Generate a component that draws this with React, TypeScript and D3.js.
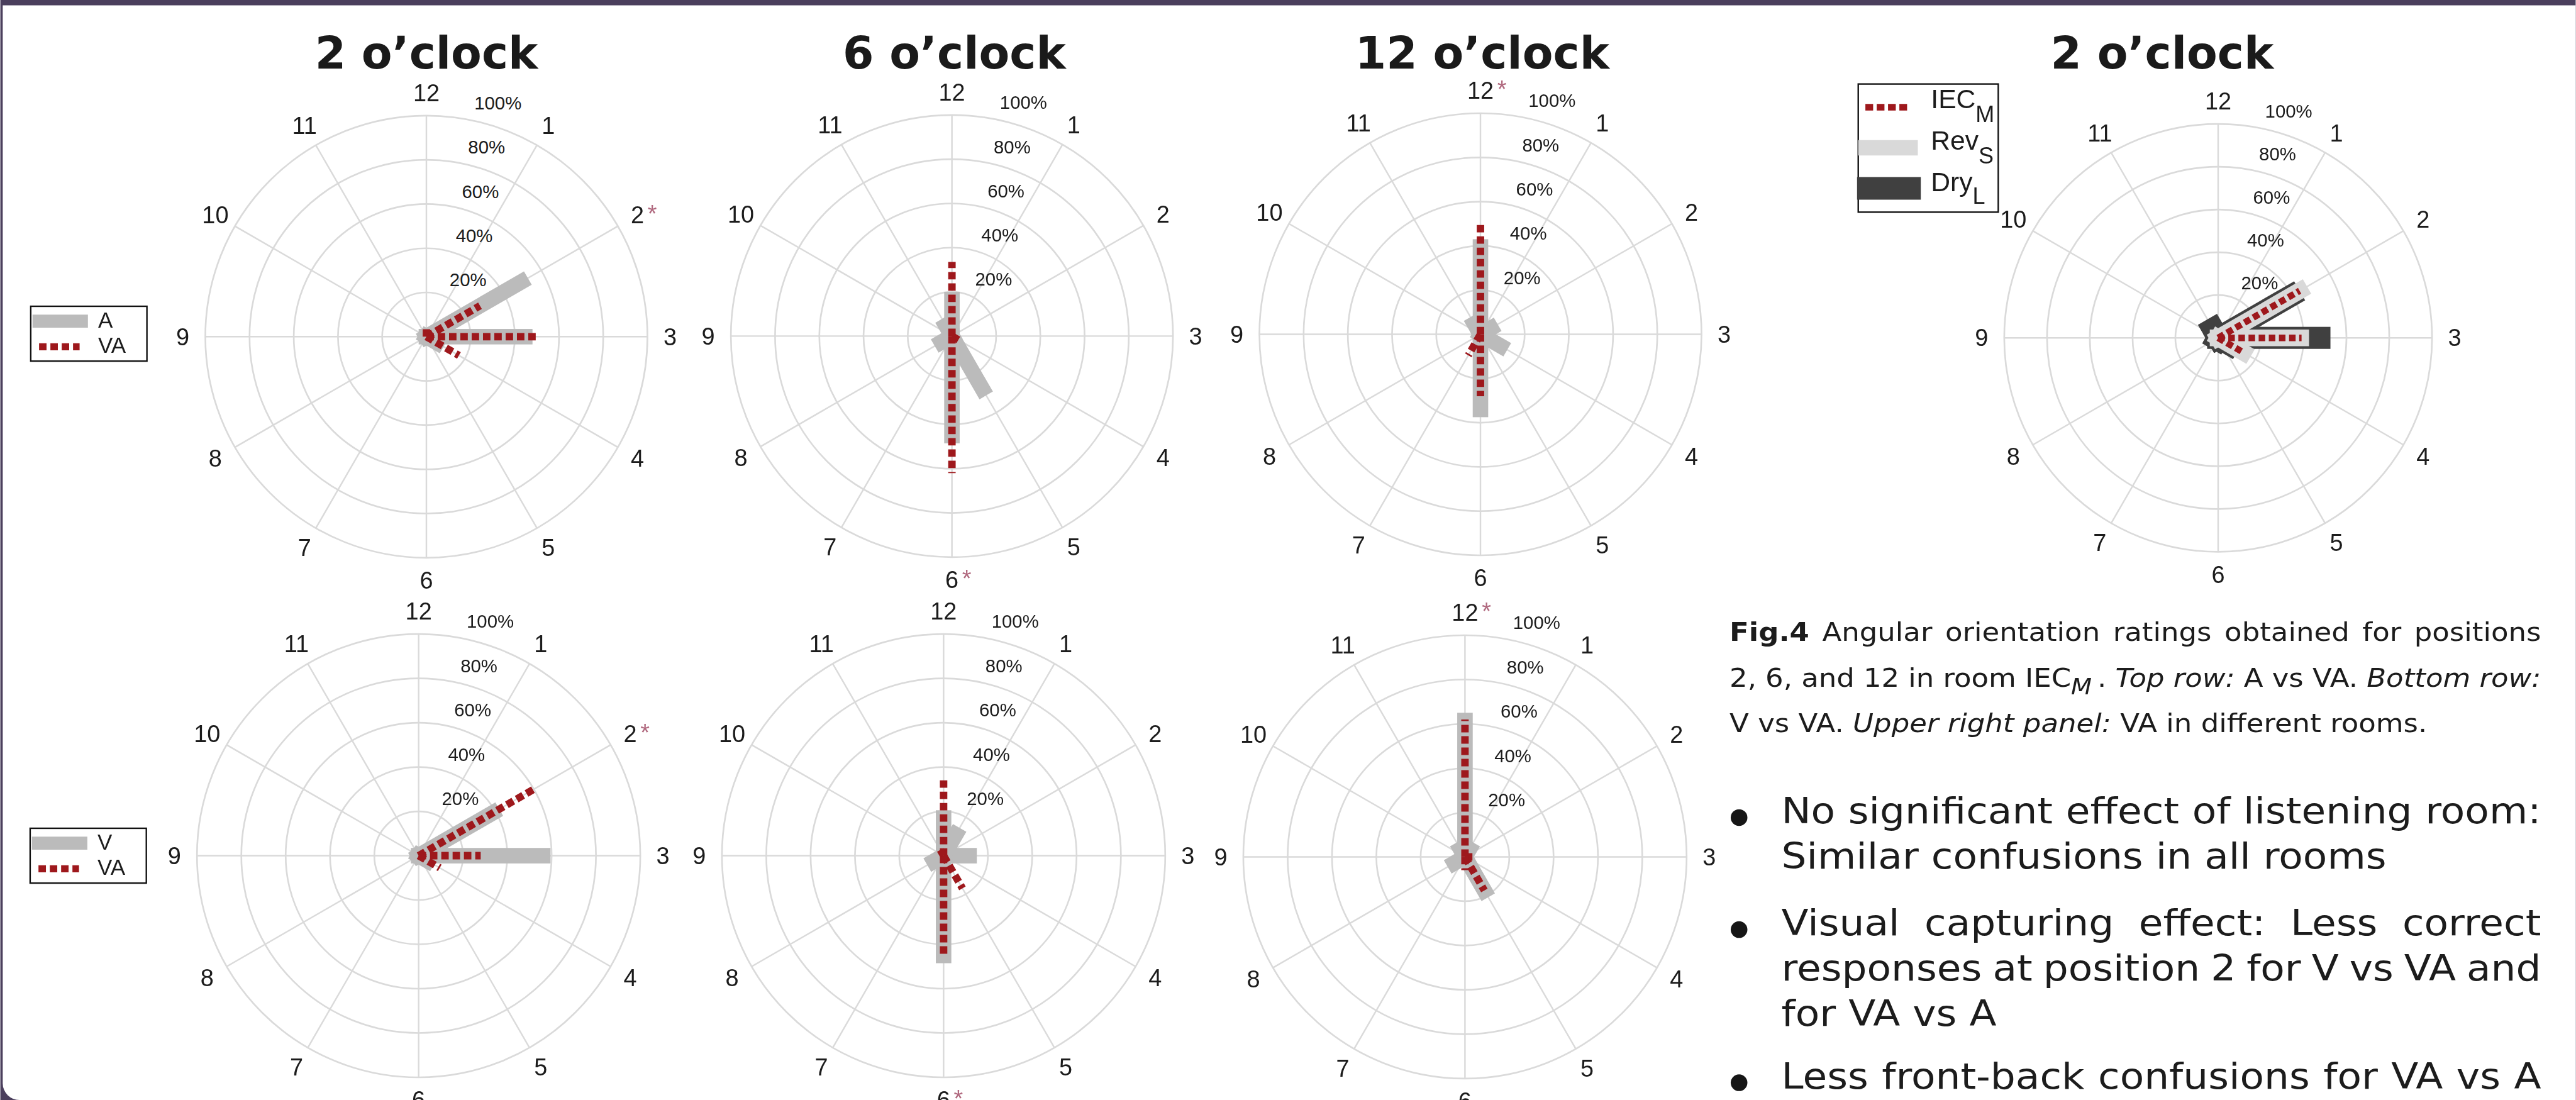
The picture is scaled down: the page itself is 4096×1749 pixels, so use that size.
import React, { useMemo } from 'react';
import * as d3 from 'd3';

const VIEW_W = 4322;
const VIEW_H = 1846;
const OUT_W = 4096;
const OUT_H = 1749;

// Clock directions, in the order the value arrays are stored.
const HOURS = [12, 1, 2, 3, 4, 5, 6, 7, 8, 9, 10, 11];
const RADIAL_TICKS = [20, 40, 60, 80, 100];

// Share of responses (%) per perceived clock direction, ordered as HOURS.
// Top row: A vs VA
const top2A = [0, 0, 53, 48, 9, 0, 0, 0, 0, 0, 0, 0];
const top2VA = [5, 0, 28, 50, 17, 0, 0, 0, 0, 0, 0, 0];
const top6A = [20, 0, 0, 0, 0, 31, 48.5, 0, 9, 0, 0, 9];
const top6VA = [33.5, 0, 0, 0, 4, 0, 62, 0, 0, 0, 0, 0];
const top12A = [43, 0, 9, 0, 14, 0, 37.5, 0, 0, 0, 0, 9];
const top12VA = [51, 0, 0, 0, 0, 0, 28, 11, 0, 0, 0, 0];
// Bottom row: V vs VA
const bot2V = [0, 0, 42, 59.5, 8, 0, 0, 0, 0, 0, 0, 0];
const bot2VA = [0, 0, 61, 28, 11, 0, 0, 0, 0, 0, 0, 0];
const bot6V = [20.5, 14.5, 0, 15, 0, 0, 48.5, 0, 8.5, 0, 0, 0];
const bot6VA = [34, 0, 0, 0, 0, 17, 45, 0, 0, 0, 0, 3];
const bot12V = [65, 7.5, 0, 0, 0, 21, 0, 0, 9, 0, 0, 7.5];
const bot12VA = [62, 0, 0, 5, 0, 17.5, 6, 0, 0, 0, 0, 0];
// Upper right: VA at position 2 in the three rooms
const roomIEC = [0, 0, 44, 39, 12.5, 0, 0, 0, 0, 0, 0, 0];
const roomRev = [0, 0, 48, 42.5, 17.5, 0, 0, 0, 0, 0, 0, 0];
const roomDry = [0, 0, 44, 52.5, 11, 0, 0, 6, 5, 0, 0, 10];

const TITLES = ['2 o\u2019clock', '6 o\u2019clock', '12 o\u2019clock', '2 o\u2019clock'];
const TARGET_HOURS = [2, 6, 12];

const C = {
  frame: '#4b3f5d',
  grid: '#dadada',
  grey: '#bbbbbb',
  red: '#9e181c',
  rev: '#d9d9d9',
  dry: '#404040',
  star: '#b0687e',
  ink: '#1c1c1c',
};

const NUM_FONT = '"Liberation Sans", Arial, Helvetica, sans-serif';
const TEXT_FONT = '"DejaVu Sans", sans-serif';

type Series = {
  values: number[];
  kind: 'bar' | 'dot';
  color: string;
  width: number;
  dash?: string;
};

const greyBar = (values: number[]): Series => ({ values, kind: 'bar', color: C.grey, width: 26 });
const redDots = (values: number[]): Series => ({ values, kind: 'dot', color: C.red, width: 12.5, dash: '12.5 6.5' });

const PANELS = [
  { cx: 715, cy: 565, R: 371, star: 2, series: [greyBar(top2A), redDots(top2VA)] },
  { cx: 1597, cy: 564, R: 371, star: 6, series: [greyBar(top6A), redDots(top6VA)] },
  { cx: 2484, cy: 561, R: 371, star: 12, series: [greyBar(top12A), redDots(top12VA)] },
  {
    cx: 3722, cy: 567, R: 359, star: null,
    series: [
      { values: roomDry, kind: 'bar', color: C.dry, width: 37 } as Series,
      { values: roomRev, kind: 'bar', color: C.rev, width: 28 } as Series,
      { values: roomIEC, kind: 'dot', color: C.red, width: 11, dash: '11 6' } as Series,
    ],
  },
  { cx: 702, cy: 1436, R: 372, star: 2, series: [greyBar(bot2V), redDots(bot2VA)] },
  { cx: 1583, cy: 1436, R: 372, star: 6, series: [greyBar(bot6V), redDots(bot6VA)] },
  { cx: 2458, cy: 1438, R: 372, star: 12, series: [greyBar(bot12V), redDots(bot12VA)] },
];

const TITLE_POS = [715, 1601, 2487, 3628];

function PolarPanel({ cx, cy, R, star, series }: { cx: number; cy: number; R: number; star: number | null; series: Series[] }) {
  const r = d3.scaleLinear().domain([0, 100]).range([0, R]);
  const deg = d3.scaleLinear().domain([0, 12]).range([0, 360]);
  const rad = (h: number) => (deg(h % 12) * Math.PI) / 180;
  const labelSize = 40;
  const pctSize = 31;

  return (
    <g>
      {RADIAL_TICKS.map((t) => (
        <circle key={t} cx={cx} cy={cy} r={r(t)} fill="none" stroke={C.grid} strokeWidth={2.8} />
      ))}
      {HOURS.map((h) => {
        const [x, y] = d3.pointRadial(rad(h), R);
        return <line key={h} x1={cx} y1={cy} x2={cx + x} y2={cy + y} stroke={C.grid} strokeWidth={2.6} />;
      })}
      {RADIAL_TICKS.map((t) => (
        <text
          key={t}
          x={cx + 28.5 + 0.14 * r(t)}
          y={cy - r(t) - 21 + 0.35 * pctSize}
          fontFamily={NUM_FONT}
          fontSize={pctSize}
          fill={C.ink}
        >
          {t}%
        </text>
      ))}
      {series.map((s, si) =>
        s.values.map((v, i) => {
          if (!(v > 0)) return null;
          const h = HOURS[i];
          if (s.kind === 'bar') {
            const hw = s.width / 2;
            return (
              <rect
                key={`${si}-${h}`}
                x={-hw}
                y={-hw}
                width={r(v) + hw}
                height={s.width}
                fill={s.color}
                transform={`translate(${cx},${cy}) rotate(${deg(h % 12) - 90})`}
              />
            );
          }
          const [x, y] = d3.pointRadial(rad(h), r(v));
          return (
            <line
              key={`${si}-${h}`}
              x1={cx}
              y1={cy}
              x2={cx + x}
              y2={cy + y}
              stroke={s.color}
              strokeWidth={s.width}
              strokeDasharray={s.dash}
            />
          );
        })
      )}
      {HOURS.map((h) => {
        const [x, y] = d3.pointRadial(rad(h), R + 38);
        const lx = cx + x;
        const ly = cy + y;
        const digitsW = String(h).length * 0.556 * labelSize;
        return (
          <g key={h}>
            <text
              x={lx}
              y={ly + 0.35 * labelSize}
              textAnchor="middle"
              fontFamily={NUM_FONT}
              fontSize={labelSize}
              fill={C.ink}
            >
              {h}
            </text>
            {star === h && (
              <text x={lx + digitsW / 2 + 6} y={ly + 0.35 * labelSize - 2} fontFamily={NUM_FONT} fontSize={40} fill={C.star}>
                *
              </text>
            )}
          </g>
        );
      })}
    </g>
  );
}

function PairLegend({ x, y, labels }: { x: number; y: number; labels: string[] }) {
  return (
    <g>
      <rect x={x} y={y} width={195} height={92} fill="#fff" stroke="#111" strokeWidth={2.5} />
      <line x1={x + 3} x2={x + 96} y1={y + 25} y2={y + 25} stroke={C.grey} strokeWidth={22} />
      <line x1={x + 14} x2={x + 82} y1={y + 68} y2={y + 68} stroke={C.red} strokeWidth={12} strokeDasharray="12.5 6.5" />
      <text x={x + 113} y={y + 36} fontFamily={NUM_FONT} fontSize={37} fill={C.ink}>
        {labels[0]}
      </text>
      <text x={x + 113} y={y + 78} fontFamily={NUM_FONT} fontSize={37} fill={C.ink}>
        {labels[1]}
      </text>
    </g>
  );
}

function RoomLegend() {
  const tx = 3240;
  const rows = [
    { main: 'IEC', sub: 'M', base: 182, subBase: 205 },
    { main: 'Rev', sub: 'S', base: 251, subBase: 274 },
    { main: 'Dry', sub: 'L', base: 321, subBase: 342 },
  ];
  return (
    <g>
      <rect x={3118} y={141} width={235} height={215} fill="#fff" stroke="#111" strokeWidth={2.5} />
      <line x1={3130} x2={3202} y1={180} y2={180} stroke={C.red} strokeWidth={11} strokeDasharray="13 6" />
      <line x1={3118} x2={3218} y1={248} y2={248} stroke={C.rev} strokeWidth={26} />
      <line x1={3116} x2={3223} y1={316} y2={316} stroke={C.dry} strokeWidth={38} />
      {rows.map((row) => (
        <text key={row.main} x={tx} y={row.base} fontFamily={NUM_FONT} fontSize={45} fill={C.ink}>
          {row.main}
          <tspan fontSize={38} dy={row.subBase - row.base}>
            {row.sub}
          </tspan>
        </text>
      ))}
    </g>
  );
}

// ---------- caption and bullet text ----------
type Seg = { t: string; b?: boolean; i?: boolean; sub?: boolean };
type Word = string | Seg[];
type Line = { words: Word[]; justify: boolean };

const words = (s: string) => s.split(' ');
const it = (s: string): Seg[] => [{ t: s, i: true }];

const CAPTION: Line[] = [
  { justify: true, words: [[{ t: 'Fig.4', b: true }], ...words('Angular orientation ratings obtained for positions')] },
  {
    justify: true,
    words: [
      ...words('2, 6, and 12 in room'),
      [{ t: 'IEC' }, { t: 'M', i: true, sub: true }, { t: '\u2009.' }],
      it('Top'),
      it('row:'),
      ...words('A vs VA.'),
      it('Bottom'),
      it('row:'),
    ],
  },
  { justify: false, words: [...words('V vs VA.'), it('Upper'), it('right'), it('panel:'), ...words('VA in different rooms.')] },
];
const CAPTION_BASE = [1076, 1153, 1229];

const BULLETS: Line[][] = [
  [
    { justify: true, words: words('No significant effect of listening room:') },
    { justify: false, words: words('Similar confusions in all rooms') },
  ],
  [
    { justify: true, words: words('Visual capturing effect: Less correct') },
    { justify: true, words: words('responses at position 2 for V vs VA and') },
    { justify: false, words: words('for VA vs A') },
  ],
  [{ justify: true, words: words('Less front-back confusions for VA vs A') }],
];
const BULLET_BASE = [[1382, 1458], [1570, 1646, 1721], [1827]];

const SUB_SCALE = 0.85;
const SUB_DY = 12;

function fontStr(s: Seg, size: number) {
  const sz = s.sub ? size * SUB_SCALE : size;
  return `${s.i ? 'italic ' : ''}${s.b ? 'bold ' : ''}${sz}px "DejaVu Sans"`;
}

function layoutLine(ctx: CanvasRenderingContext2D | null, line: Line, size: number, width: number) {
  const segsList: Seg[][] = line.words.map((w) => (typeof w === 'string' ? [{ t: w }] : w));
  const measure = (s: Seg) => {
    if (!ctx) return s.t.length * size * 0.58;
    ctx.font = fontStr(s, size);
    return ctx.measureText(s.t).width;
  };
  const widths = segsList.map((segs) => segs.reduce((a, s) => a + measure(s), 0));
  const space = measure({ t: ' ' });
  const total = widths.reduce((a, b) => a + b, 0);
  const gap = line.justify && segsList.length > 1 ? (width - total) / (segsList.length - 1) : space;
  let x = 0;
  return segsList.map((segs, k) => {
    const out = { segs, x };
    x += widths[k] + gap;
    return out;
  });
}

function TextLine({ items, baseline, size }: { items: { segs: Seg[]; x: number }[]; baseline: number; size: number }) {
  return (
    <g>
      {items.map((w, k) => (
        <text key={k} x={w.x} y={baseline} fontFamily={TEXT_FONT} fontSize={size} fill={C.ink}>
          {w.segs.map((s, j) => {
            const prevSub = j > 0 && w.segs[j - 1].sub;
            const dy = s.sub ? SUB_DY : prevSub ? -SUB_DY : 0;
            return (
              <tspan
                key={j}
                fontWeight={s.b ? 'bold' : 'normal'}
                fontStyle={s.i ? 'italic' : 'normal'}
                fontSize={s.sub ? size * SUB_SCALE : size}
                dy={dy || undefined}
              >
                {s.t}
              </tspan>
            );
          })}
        </text>
      ))}
    </g>
  );
}

export default function App() {
  const ctx = useMemo(() => document.createElement('canvas').getContext('2d'), []);

  const RIGHT = 4264;
  const capX = 2902;
  const capSize = 44;
  const capSx = 1.08;
  const bulX = 2989;
  const bulSize = 61;
  const bulSx = 1.09;

  const captionLines = CAPTION.map((l) => layoutLine(ctx, l, capSize, (RIGHT - capX) / capSx));
  const bulletLines = BULLETS.map((b) => b.map((l) => layoutLine(ctx, l, bulSize, (RIGHT - bulX) / bulSx)));

  return (
    <svg
      width={OUT_W}
      height={OUT_H}
      viewBox={`0 0 ${VIEW_W} ${VIEW_H}`}
      style={{ position: 'fixed', left: 0, top: 0, display: 'block' }}
    >
      <rect x={0} y={0} width={VIEW_W} height={VIEW_H} fill={C.frame} />
      <path d={`M4 9 H${VIEW_W} V${VIEW_H} H32 A28 28 0 0 1 4 ${VIEW_H - 28} Z`} fill="#fff" />

      {TITLES.map((t, i) => (
        <text
          key={i}
          x={TITLE_POS[i]}
          y={115}
          textAnchor="middle"
          fontFamily={TEXT_FONT}
          fontWeight="bold"
          fontSize={75}
          fill="#1a1a1a"
        >
          {t}
        </text>
      ))}

      {PANELS.map((p, i) => (
        <PolarPanel key={i} cx={p.cx} cy={p.cy} R={p.R} star={p.star} series={p.series} />
      ))}

      <PairLegend x={51} y={514} labels={['A', 'VA']} />
      <PairLegend x={50} y={1390} labels={['V', 'VA']} />
      <RoomLegend />

      <g transform={`translate(${capX} 0) scale(${capSx} 1)`}>
        {captionLines.map((items, k) => (
          <TextLine key={k} items={items} baseline={CAPTION_BASE[k]} size={capSize} />
        ))}
      </g>

      {BULLET_BASE.map((bases, b) => (
        <circle key={b} cx={2918} cy={bases[0] - 10} r={14} fill="#161616" />
      ))}
      <g transform={`translate(${bulX} 0) scale(${bulSx} 1)`}>
        {bulletLines.map((lines, b) =>
          lines.map((items, k) => <TextLine key={`${b}-${k}`} items={items} baseline={BULLET_BASE[b][k]} size={bulSize} />)
        )}
      </g>
    </svg>
  );
}
